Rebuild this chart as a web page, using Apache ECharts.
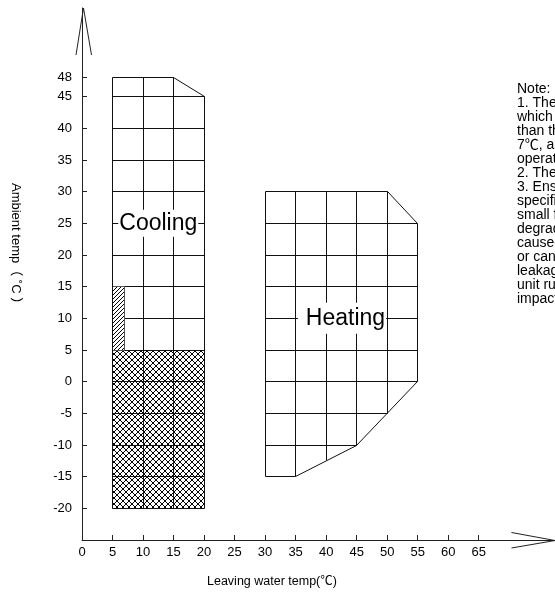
<!DOCTYPE html>
<html>
<head>
<meta charset="utf-8">
<script src="https://cdn.jsdelivr.net/npm/echarts@6/dist/echarts.min.js"></script>
<style>
html,body{margin:0;padding:0;background:#fff;}
#c{width:555px;height:597px;}
</style>
</head>
<body>
<div id="c"></div>
<script>
// ---- data ----
const xTickValues = [0,5,10,15,20,25,30,35,40,45,50,55,60,65];
const yTickValues = [-20,-15,-10,-5,0,5,10,15,20,25,30,35,40,45,48];

const coolingOutline = [[5,-20],[5,48],[15,48],[20,45],[20,-20]];
const coolingHLines = [45,40,35,30,25,20,15,10,5,0,-5,-10,-15]; // from x=5 to x=20
const coolingVLines = [10,15];                                  // from y=-20 to y=48
const coolingXRange = [5,20];
const coolingYRange = [-20,48];
const frostZone = [[5,-20],[5,5],[20,5],[20,-20]];
const lowTempStrip = [[5,5],[5,15],[7,15],[7,5]];

const heatingOutline = [[30,-15],[30,30],[50,30],[55,25],[55,0],[45,-10],[35,-15]];
// [y, xStart, xEnd]
const heatingHLines = [[25,30,55],[20,30,55],[15,30,55],[10,30,55],[5,30,55],[0,30,55],[-5,30,50],[-10,30,45]];
// [x, yStart, yEnd]
const heatingVLines = [[35,-15,30],[40,-12.5,30],[45,-10,30],[50,-5,30]];

const regionLabels = [["Cooling",12.5,25],["Heating",42.6,10]];

const noteLines = [
  "Note:",
  "1. The shaded area is the range in",
  "which the leaving water temp is lower",
  "than the rated value, below",
  "7\u2103, antifreeze is required for",
  "operation.",
  "2. The unit must not run outside range.",
  "3. Ensure the water flow meets the",
  "specified value, otherwise too",
  "small flow will cause performance",
  "degradation, and may also be",
  "caused by freezing of the heat exchanger",
  "or can lead to refrigerant",
  "leakage and damage to the",
  "unit running reliability and",
  "impact the service life."
];

// ---- build segments ----
const segs = [];
coolingHLines.forEach(y => segs.push([coolingXRange[0], y, coolingXRange[1], y]));
coolingVLines.forEach(x => segs.push([x, coolingYRange[0], x, coolingYRange[1]]));
heatingHLines.forEach(h => segs.push([h[1], h[0], h[2], h[0]]));
heatingVLines.forEach(v => segs.push([v[0], v[1], v[0], v[2]]));

function snap(p){ return [Math.round(p[0]-0.5)+0.5, Math.round(p[1]-0.5)+0.5]; }

// patterns
function makeCross(){
  const c = document.createElement('canvas'); c.width = 6; c.height = 6;
  const g = c.getContext('2d');
  g.fillStyle = '#fff'; g.fillRect(0,0,6,6);
  g.strokeStyle = '#000'; g.lineWidth = 1;
  g.beginPath(); g.moveTo(0,0); g.lineTo(6,6); g.moveTo(6,0); g.lineTo(0,6); g.stroke();
  return c;
}
function makeHatch(){
  const c = document.createElement('canvas'); c.width = 4; c.height = 4;
  const g = c.getContext('2d');
  g.fillStyle = '#fff'; g.fillRect(0,0,4,4);
  g.strokeStyle = '#000'; g.lineWidth = 1;
  g.beginPath(); g.moveTo(0,4); g.lineTo(4,0); g.moveTo(-1,1); g.lineTo(1,-1); g.moveTo(3,5); g.lineTo(5,3); g.stroke();
  return c;
}
const crossPattern = {image: makeCross(), repeat: 'repeat'};
const hatchPattern = {image: makeHatch(), repeat: 'repeat'};

function polySeries(points, fill, stroke, z){
  return {
    type: 'custom', z: z, silent: true, animation: false,
    data: [[points[0][0], points[0][1]]],
    renderItem: function(params, api){
      const pts = points.map(p => snap(api.coord(p)));
      return {type:'polygon', shape:{points: pts}, style:{fill: fill, stroke: stroke, lineWidth: 1}};
    }
  };
}

const FONT = 'Liberation Sans, Arial, Noto Sans CJK SC';
const chart = echarts.init(document.getElementById('c'), null, {renderer:'canvas'});
const option = {
  animation: false,
  backgroundColor: '#fff',
  grid: {left: 82, right: 0, top: 8, bottom: 57, containLabel: false, outerBoundsMode: 'none'},
  xAxis: {
    type: 'value', min: 0, max: 77.5, interval: 5,
    axisLine: {show: true, onZero: false, lineStyle: {color: '#222', width: 1}},
    axisTick: {show: true, inside: true, length: 5, customValues: xTickValues.slice(1), lineStyle:{color:'#222'}},
    axisLabel: {customValues: xTickValues, color: '#000', fontSize: 13, fontFamily: FONT, margin: 6},
    splitLine: {show: false}
  },
  yAxis: {
    type: 'value', min: -25, max: 59, interval: 5,
    axisLine: {show: true, onZero: false, lineStyle: {color: '#222', width: 1}},
    axisTick: {show: true, inside: true, length: 5, customValues: yTickValues, lineStyle:{color:'#222'}},
    axisLabel: {customValues: yTickValues, color: '#000', fontSize: 13, fontFamily: FONT, margin: 10},
    splitLine: {show: false}
  },
  graphic: [
    {type:'polyline', shape:{points:[[76,55],[83.5,8],[91.5,55]]}, style:{stroke:'#222', lineWidth:1, fill:null}, z:100},
    {type:'polyline', shape:{points:[[511.5,532.5],[555,540.5],[511.5,548]]}, style:{stroke:'#222', lineWidth:1, fill:null}, z:100},
    {type:'text', x: 22, y: 183, rotation: -Math.PI/2,
      style:{text:'Ambient temp\uFF08 \u02DAC \uFF09', fontSize: 13, fontFamily: FONT, fill:'#000'}},
    {type:'text', left: 207, top: 575,
      style:{text:'Leaving water temp(\u2103)', fontSize: 12.5, fontFamily: FONT, fill:'#000'}},
    {type:'text', left: 517, top: 82,
      style:{text: noteLines.join('\n'), fontSize: 14, lineHeight: 14, fontFamily: FONT, fill:'#000'}}
  ],
  series: [
    polySeries(coolingOutline, '#fff', null, 1),
    polySeries(heatingOutline, '#fff', null, 1),
    polySeries(frostZone, crossPattern, null, 2),
    {
      type: 'custom', z: 3, silent: true, animation: false,
      data: segs,
      renderItem: function(params, api){
        const a = snap(api.coord([api.value(0), api.value(1)]));
        const b = snap(api.coord([api.value(2), api.value(3)]));
        return {type:'line', shape:{x1:a[0], y1:a[1], x2:b[0], y2:b[1]}, style:{stroke:'#111', lineWidth:1}};
      }
    },
    polySeries(lowTempStrip, hatchPattern, '#555', 4),
    polySeries(coolingOutline, null, '#111', 5),
    polySeries(heatingOutline, null, '#111', 5),
    {
      type: 'custom', z: 6, silent: true, animation: false,
      data: regionLabels.map(r => [r[1], r[2]]),
      renderItem: function(params, api){
        const p = api.coord([api.value(0), api.value(1)]);
        const name = regionLabels[params.dataIndex][0];
        return {type:'text', x: p[0], y: p[1], style:{
          text: name, fontSize: 23, fontFamily: 'Liberation Sans, Arial', fill: '#000',
          align: 'center', verticalAlign: 'middle', backgroundColor: '#fff',
          padding: name === 'Heating' ? [4,1,4,8] : [2,1,2,1]
        }};
      }
    }
  ]
};
chart.setOption(option);
</script>
</body>
</html>
